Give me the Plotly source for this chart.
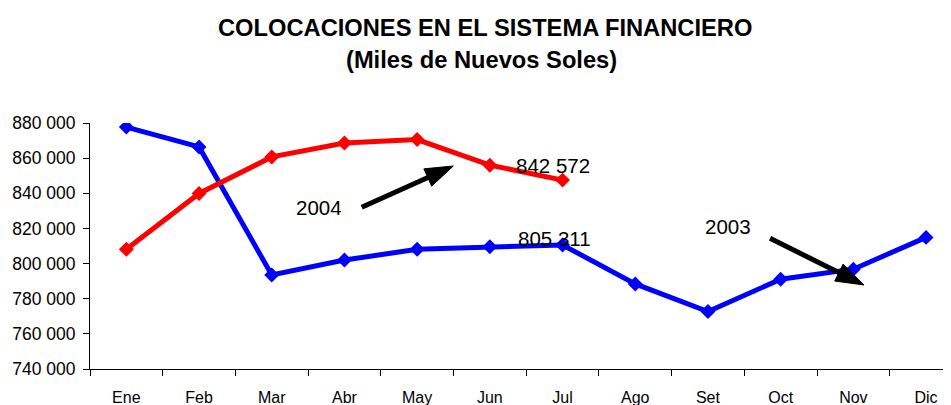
import plotly.graph_objects as go

# ---------------- data ----------------
months = ["Ene", "Feb", "Mar", "Abr", "May", "Jun", "Jul", "Ago", "Set", "Oct", "Nov", "Dic"]
serie_2003 = [877700, 866400, 793500, 802000, 808100, 809600, 810600, 788400, 772700, 791100, 796800, 814900]
months_2004 = ["Ene", "Feb", "Mar", "Abr", "May", "Jun", "Jul"]
serie_2004 = [808100, 839900, 860700, 868600, 870600, 856000, 847500]
y_tick_vals = [740000, 760000, 780000, 800000, 820000, 840000, 860000, 880000]
y_tick_labels = ["740 000", "760 000", "780 000", "800 000", "820 000", "840 000", "860 000", "880 000"]
title_line1 = "COLOCACIONES EN EL SISTEMA FINANCIERO"
title_line2 = "(Miles de Nuevos Soles)"
label_2004 = "2004"
label_2003 = "2003"
label_jul_2004 = "842 572"
label_jul_2003 = "805 311"

# ---------------- layout geometry (window pixels) ----------------
WIN_W, WIN_H = 951, 405
BODY = 8                      # default page margin around the plot div
W, H = WIN_W - BODY, WIN_H - BODY
PLOT_L, PLOT_T, PLOT_B = 90, 123, 369   # plot area in window pixels
ML, MR, MT, MB = PLOT_L - BODY, 0, PLOT_T - BODY, WIN_H - PLOT_B
PW, PH = WIN_W - PLOT_L, PLOT_B - PLOT_T
CAT_W = 72.7
FONT = "Liberation Sans, Arial, sans-serif"


def px(x):
    return (x - PLOT_L) / PW


def py(y):
    return (PLOT_B - y) / PH


fig = go.Figure()
fig.add_trace(go.Scatter(
    x=months, y=serie_2003, mode="lines+markers", name="2003",
    line=dict(color="#0000FF", width=5),
    marker=dict(symbol="diamond", size=11.5, color="#0000FF"),
))
fig.add_trace(go.Scatter(
    x=months_2004, y=serie_2004, mode="lines+markers", name="2004",
    line=dict(color="#FF0000", width=5),
    marker=dict(symbol="diamond", size=11.5, color="#FF0000"),
))

annotations = [
    dict(text=f"<b>{title_line1}</b>", x=px(484.5), y=py(27.5), font=dict(size=23.7)),
    dict(text=f"<b>{title_line2}</b>", x=px(481), y=py(59.5), font=dict(size=23.7)),
    dict(text=label_jul_2004, x=px(553), y=py(165.8), font=dict(size=20.5)),
    dict(text=label_jul_2003, x=px(554.5), y=py(238.8), font=dict(size=20.5)),
    dict(text=label_2004, x=px(319), y=py(207.2), font=dict(size=20.5)),
    dict(text=label_2003, x=px(728), y=py(226.5), font=dict(size=20.5)),
]
for a in annotations:
    a.update(xref="paper", yref="paper", showarrow=False, xanchor="center", yanchor="middle")
    a["font"].update(family=FONT, color="black")

# arrows (tail -> tip) in window pixel positions
arrows = [((361.7, 207.3), (453.3, 166.0)), ((770.0, 238.3), (864.0, 285.0))]
HEAD_LEN, HEAD_HALF = 28, 9.5
shapes = []
for (x0, y0), (x1, y1) in arrows:
    dx, dy = x1 - x0, y1 - y0
    L = (dx * dx + dy * dy) ** 0.5
    ux, uy = dx / L, dy / L
    bx, by = x1 - ux * HEAD_LEN, y1 - uy * HEAD_LEN
    nx, ny = -uy, ux
    shapes.append(dict(type="line", xref="paper", yref="paper",
                       x0=px(x0), y0=py(y0), x1=px(bx + ux * 2), y1=py(by + uy * 2),
                       line=dict(color="black", width=5)))
    p1 = (bx + nx * HEAD_HALF, by + ny * HEAD_HALF)
    p2 = (bx - nx * HEAD_HALF, by - ny * HEAD_HALF)
    path = f"M{px(x1)},{py(y1)} L{px(p1[0])},{py(p1[1])} L{px(p2[0])},{py(p2[1])} Z"
    shapes.append(dict(type="path", xref="paper", yref="paper", path=path,
                       fillcolor="black", line=dict(color="black", width=1)))

fig.update_layout(
    width=W, height=H, autosize=False,
    margin=dict(l=ML, r=MR, t=MT, b=MB, pad=0),
    paper_bgcolor="white", plot_bgcolor="white",
    showlegend=False,
    font=dict(family=FONT, color="black"),
    annotations=annotations, shapes=shapes,
)
fig.update_xaxes(
    type="category", categoryorder="array", categoryarray=months,
    range=[-0.5, -0.5 + PW / CAT_W],
    showline=True, linecolor="black", linewidth=1,
    ticks="outside", ticklen=6, tickcolor="black", tickwidth=1,
    tickson="boundaries", showgrid=False, zeroline=False,
    tickfont=dict(size=16, family=FONT, color="black"),
    ticklabelstandoff=14,
)
fig.update_yaxes(
    range=[740000, 880000],
    tickmode="array", tickvals=y_tick_vals, ticktext=y_tick_labels,
    showline=True, linecolor="black", linewidth=1,
    ticks="outside", ticklen=6, tickcolor="black", tickwidth=1,
    showgrid=False, zeroline=False,
    tickfont=dict(size=17.5, family=FONT, color="black"),
    ticklabelstandoff=4,
)

fig.write_html("out.html")
